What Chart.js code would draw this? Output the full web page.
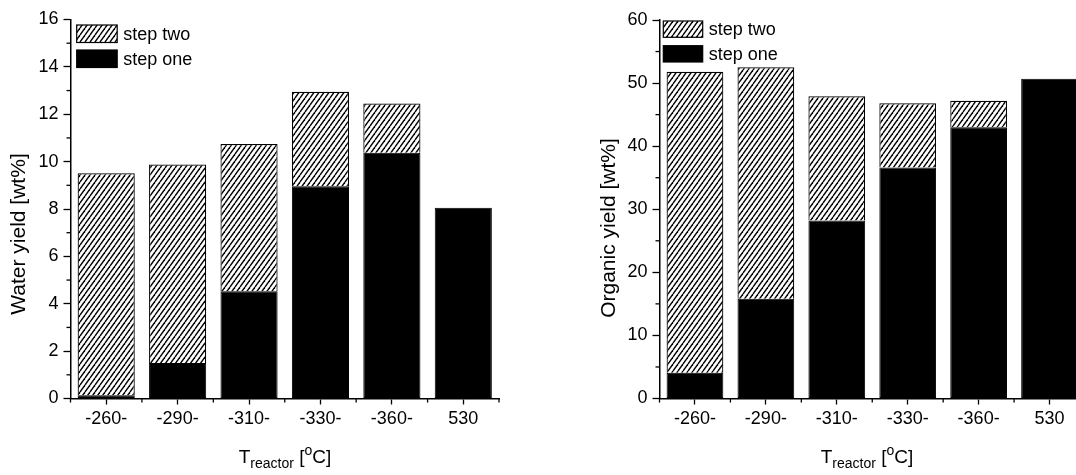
<!DOCTYPE html>
<html><head><meta charset="utf-8">
<script src="https://cdn.jsdelivr.net/npm/chart.js@4/dist/chart.umd.min.js"></script>
<style>
html,body{margin:0;padding:0;background:#fff;overflow:hidden;width:1076px;height:475px;position:relative;}
#w1{position:absolute;left:0;top:0;width:538px;height:475px;}
#w2{position:absolute;left:538px;top:0;width:560px;height:475px;}
canvas{display:block;}
</style></head><body>
<div id="w1"><canvas id="c1" width="538" height="475" style="width:538px;height:475px"></canvas></div>
<div id="w2"><canvas id="c2" width="560" height="475" style="width:560px;height:475px"></canvas></div>
<script>
// ---------- data ----------
const categories = ['-260-', '-290-', '-310-', '-330-', '-360-', '530'];
const seriesNames = ['step one', 'step two'];
const waterStepOne = [0.14, 1.5, 4.53, 8.96, 10.37, 8.05];
const waterStepTwo = [9.37, 8.38, 6.21, 3.99, 2.08, null];
const organicStepOne = [4.1, 15.8, 28.2, 36.6, 43.0, 50.7];
const organicStepTwo = [47.7, 36.7, 19.7, 10.2, 4.2, null];
const waterMinorTicks = [1, 3, 5, 7, 9, 11, 13, 15];
const organicMinorTicks = [5, 15, 25, 35, 45, 55];

const FONT = '"Liberation Sans", Arial, Helvetica, sans-serif';

function makeHatch() {
  const w = 5, h = 7;
  const c = document.createElement('canvas');
  c.width = w; c.height = h;
  const g = c.getContext('2d');
  g.fillStyle = '#fff'; g.fillRect(0, 0, w, h);
  g.strokeStyle = '#000'; g.lineWidth = 1.4;
  for (const dx of [-w, 0, w]) {
    g.beginPath(); g.moveTo(dx, h); g.lineTo(dx + w, 0); g.stroke();
  }
  return g.createPattern(c, 'repeat');
}

const decor = {
  id: 'decor',
  afterDraw(chart, args, o) {
    const ctx = chart.ctx, xs = chart.scales.x, ys = chart.scales.y, ca = chart.chartArea;
    ctx.save();
    ctx.strokeStyle = '#000'; ctx.lineWidth = 1.3;
    // minor y ticks
    o.yMinor.forEach(v => {
      const y = ys.getPixelForValue(v);
      ctx.beginPath(); ctx.moveTo(ca.left - 4, y); ctx.lineTo(ca.left, y); ctx.stroke();
    });
    // minor x ticks at category boundaries
    for (let i = 0; i <= chart.data.labels.length; i++) {
      const x = xs.getPixelForValue(i - 0.5);
      ctx.beginPath(); ctx.moveTo(x, ca.bottom); ctx.lineTo(x, ca.bottom + 4); ctx.stroke();
    }
    // legend (reverse order: step two above step one)
    ctx.font = '18px ' + FONT; ctx.fillStyle = '#000'; ctx.textBaseline = 'middle'; ctx.textAlign = 'left';
    const ds = chart.data.datasets.slice().reverse();
    ds.forEach((d, i) => {
      const bx = o.legend.x, by = o.legend.y + i * o.legend.gap;
      ctx.fillStyle = d.backgroundColor;
      ctx.fillRect(bx, by, o.legend.w, o.legend.h);
      ctx.lineWidth = 1.2; ctx.strokeStyle = '#000';
      ctx.strokeRect(bx, by, o.legend.w, o.legend.h);
      ctx.fillStyle = '#000';
      ctx.fillText(d.label, bx + o.legend.w + 6, by + o.legend.h / 2 + 1);
    });
    // y title
    ctx.save();
    ctx.translate(o.yTitle.x, o.yTitle.y);
    ctx.rotate(-Math.PI / 2);
    ctx.font = '21px ' + FONT; ctx.textAlign = 'center'; ctx.textBaseline = 'alphabetic';
    ctx.fillText(o.yTitle.text, 0, 0);
    ctx.restore();
    // x title: T_reactor [^oC]
    const big = '19px ' + FONT, small = '14px ' + FONT;
    const parts = [
      { t: 'T', f: big, dy: 0 },
      { t: 'reactor', f: small, dy: 5 },
      { t: ' [', f: big, dy: 0 },
      { t: 'o', f: small, dy: -8 },
      { t: 'C]', f: big, dy: 0 }
    ];
    let total = 0;
    parts.forEach(p => { ctx.font = p.f; p.w = ctx.measureText(p.t).width; total += p.w; });
    let x = o.xTitle.x - total / 2;
    ctx.textAlign = 'left'; ctx.textBaseline = 'alphabetic';
    parts.forEach(p => { ctx.font = p.f; ctx.fillText(p.t, x, o.xTitle.y + p.dy); x += p.w; });
    ctx.restore();
  }
};

function build(id, stepOne, stepTwo, yMax, yStep, pad, yWidth, deco) {
  const hatch = makeHatch();
  return new Chart(document.getElementById(id), {
    type: 'bar',
    data: {
      labels: categories,
      datasets: [
        { label: seriesNames[0], data: stepOne, backgroundColor: '#000', borderColor: '#000', borderWidth: 1, borderSkipped: false },
        { label: seriesNames[1], data: stepTwo, backgroundColor: hatch, borderColor: '#000', borderWidth: 1.2, borderSkipped: 'bottom' }
      ]
    },
    options: {
      responsive: false, animation: false, devicePixelRatio: 1,
      layout: { padding: pad },
      datasets: { bar: { categoryPercentage: 1.0, barPercentage: 0.8 } },
      plugins: { legend: { display: false }, tooltip: { enabled: false }, decor: deco },
      scales: {
        x: {
          stacked: true,
          grid: { display: true, drawOnChartArea: false, drawTicks: true, offset: false, tickLength: 6, tickColor: '#000', tickWidth: 1.3 },
          border: { display: true, color: '#000', width: 1.5 },
          ticks: { color: '#000', font: { family: FONT, size: 18 }, padding: 4, maxRotation: 0 },
          afterFit(s) { s.height = 475 - 398.5; }
        },
        y: {
          stacked: true, min: 0, max: yMax,
          grid: { display: true, drawOnChartArea: false, drawTicks: true, tickLength: 7, tickColor: '#000', tickWidth: 1.3 },
          border: { display: true, color: '#000', width: 1.5 },
          ticks: { stepSize: yStep, color: '#000', font: { family: FONT, size: 18 }, padding: 5 },
          afterFit(s) { s.width = yWidth; }
        }
      }
    },
    plugins: [decor]
  });
}

build('c1', waterStepOne, waterStepTwo, 16, 2,
  { top: 19.5, left: 0, right: 538 - 499, bottom: 0 }, 70.5,
  { yMinor: waterMinorTicks,
    legend: { x: 76.7, y: 25, w: 40.5, h: 17.5, gap: 25 },
    yTitle: { x: 25, y: 234, text: 'Water yield [wt%]' },
    xTitle: { x: 285, y: 463 } });

build('c2', organicStepOne, organicStepTwo, 60, 10,
  { top: 20, left: 0, right: 560 - (1085 - 538), bottom: 0 }, 659.5 - 538,
  { yMinor: organicMinorTicks,
    legend: { x: 663.3 - 538, y: 21, w: 39.4, h: 16.3, gap: 24.7 },
    yTitle: { x: 615 - 538, y: 228, text: 'Organic yield [wt%]' },
    xTitle: { x: 867 - 538, y: 463 } });
</script>
</body></html>
